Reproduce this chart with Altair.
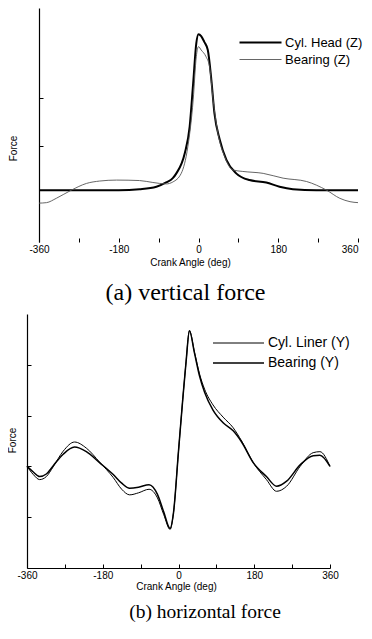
import altair as alt
import pandas as pd

# ---------------- data: (a) vertical force ----------------
top_series = ["Cyl. Head (Z)", "Bearing (Z)"]
head_angle = [-360, -300, -240, -180, -133, -95, -73, -58, -50, -31, -20, -12, -5, 0, 6, 13, 21,
              29, 36, 48, 63, 85, 115, 153, 183, 213, 266, 360]
head_force = [1.08, 1.08, 1.08, 1.08, 1.10, 1.15, 1.24, 1.33, 1.43, 1.85, 2.40, 3.31, 4.14, 4.33,
              4.29, 4.17, 4.00, 3.38, 2.68, 2.13, 1.71, 1.43, 1.29, 1.24, 1.15, 1.10, 1.08, 1.08]
bear_z_angle = [-360, -343, -321, -287, -253, -223, -185, -133, -103, -73, -58, -39, -24, -12, -5,
                0, 6, 17, 25, 33, 44, 59, 78, 100, 146, 191, 244, 289, 319, 342, 360]
bear_z_force = [0.81, 0.82, 0.91, 1.08, 1.22, 1.27, 1.29, 1.28, 1.24, 1.21, 1.25, 1.43, 1.99, 2.96,
                3.86, 4.07, 4.00, 3.86, 3.65, 2.96, 2.26, 1.78, 1.50, 1.47, 1.43, 1.33, 1.26, 1.08,
                0.91, 0.84, 0.82]

# ---------------- data: (b) horizontal force ----------------
bot_series = ["Cyl. Liner (Y)", "Bearing (Y)"]
bot_angle = [-360, -345, -330, -314, -298, -274, -247, -219, -187, -155, -135, -116, -95, -70, -50,
             -35, -20, -12, 0, 10, 18, 26, 38, 50, 62, 82, 106, 130, 150, 178, 209, 233, 257, 289,
             320, 336, 360]
liner_force = [2.00, 1.84, 1.74, 1.80, 1.99, 2.30, 2.48, 2.36, 2.08, 1.78, 1.55, 1.44, 1.48, 1.55,
               1.38, 1.05, 0.76, 1.08, 2.30, 3.31, 4.06, 4.67, 4.25, 3.82, 3.52, 3.21, 2.97, 2.76,
               2.50, 2.07, 1.74, 1.51, 1.61, 2.00, 2.27, 2.29, 2.00]
bearing_y_force = [2.00, 1.89, 1.80, 1.85, 2.01, 2.24, 2.38, 2.29, 2.07, 1.84, 1.67, 1.57, 1.59,
                   1.64, 1.45, 1.10, 0.78, 1.08, 2.30, 3.31, 4.06, 4.67, 4.23, 3.78, 3.46, 3.11,
                   2.86, 2.70, 2.48, 2.07, 1.80, 1.61, 1.71, 2.03, 2.21, 2.22, 2.00]

x_ticks = [-360, -270, -180, -90, 0, 90, 180, 270, 360]
caption_a = "(a) vertical force"
caption_b = "(b) horizontal force"

df_top = pd.concat([
    pd.DataFrame({"angle": head_angle, "force": head_force, "series": top_series[0]}),
    pd.DataFrame({"angle": bear_z_angle, "force": bear_z_force, "series": top_series[1]}),
])
df_bot = pd.concat([
    pd.DataFrame({"angle": bot_angle, "force": liner_force, "series": bot_series[0]}),
    pd.DataFrame({"angle": bot_angle, "force": bearing_y_force, "series": bot_series[1]}),
])

W, H = 356, 623
SANS = "Liberation Sans"
label_expr = "datum.value % 180 == 0 ? '' + datum.value : ''"


def x_axis(offset, domain, title_x, title_y, flush_right):
    align = "center"
    if flush_right:
        align = {"condition": {"test": "datum.value == 360", "value": "right"}, "value": "center"}
    return alt.Axis(orient="top", offset=offset, values=x_ticks, tickSize=4, tickWidth=1,
                    tickColor="#000", domain=domain, domainColor="#000", domainWidth=1.2,
                    grid=False, labelExpr=label_expr, labelPadding=-11, labelBaseline="middle",
                    labelAlign=align,
                    labelFont=SANS, labelFontSize=10, labelColor="#000", labelFlush=False,
                    labelOverlap=False, title="Crank Angle (deg)", titleX=title_x,
                    titleY=title_y, titleAlign="center", titleBaseline="middle",
                    titleFont=SANS, titleFontSize=10, titleFontWeight="normal",
                    titleColor="#000")


def y_axis(offset, values, title_x, title_y):
    return alt.Axis(orient="right", offset=offset, values=values, tickSize=4, tickWidth=1,
                    tickColor="#000", domainColor="#000", domainWidth=1.2, grid=False,
                    labels=False, title="Force", titleX=title_x, titleY=title_y,
                    titleAngle=270, titleAlign="center", titleBaseline="middle",
                    titleFont=SANS, titleFontSize=10, titleFontWeight="normal",
                    titleColor="#000")


def legend(x, y, half, label_offset, row_pad, size):
    return alt.Legend(orient="none", legendX=x, legendY=y, title=None,
                      symbolType=f"M-{half},0H{half}", symbolSize=100,
                      labelOffset=label_offset, labelFont=SANS, labelFontSize=size,
                      labelColor="#000", padding=0, rowPadding=row_pad)


leg_top = legend(246, 28, 4.2, 18, 3, 13)
top = alt.Chart(df_top).mark_line(interpolate="monotone").encode(
    x=alt.X("angle:Q", scale=alt.Scale(domain=[-360, 360], range=[31, 350], nice=False, zero=False),
            axis=x_axis(-234, False, 182, 20, True)),
    y=alt.Y("force:Q", scale=alt.Scale(domain=[0, 4.875], range=[234, 0], nice=False, zero=False),
            axis=y_axis(31 - W, [2, 3], -25.5, 140)),
    color=alt.Color("series:N", scale=alt.Scale(domain=top_series, range=["#000000", "#555555"]),
                    legend=leg_top),
    strokeWidth=alt.StrokeWidth("series:N", scale=alt.Scale(domain=top_series, range=[2.0, 0.9]),
                                legend=leg_top),
)

leg_bot = legend(223.5, 328, 5.1, 22.5, 6, 14)
bot = alt.Chart(df_bot).mark_line(interpolate="monotone").encode(
    x=alt.X("angle:Q", scale=alt.Scale(domain=[-360, 360], range=[19, 322], nice=False, zero=False),
            axis=x_axis(-560, True, 168, 18, False)),
    y=alt.Y("force:Q", scale=alt.Scale(domain=[0, 5], range=[560, 306], nice=False, zero=False),
            axis=y_axis(19 - W, [1, 2, 3, 4], -14.5, 432)),
    color=alt.Color("series:N", scale=alt.Scale(domain=bot_series, range=["#000000", "#000000"]),
                    legend=leg_bot),
    strokeWidth=alt.StrokeWidth("series:N", scale=alt.Scale(domain=bot_series, range=[1.0, 1.5]),
                                legend=leg_bot),
)

cap_a = alt.Chart(pd.DataFrame({"t": [caption_a]})).mark_text(
    font="Liberation Serif", fontSize=24, align="center", baseline="alphabetic", color="#000"
).encode(text="t:N", x=alt.value(177.5), y=alt.value(292))

cap_b = alt.Chart(pd.DataFrame({"t": [caption_b]})).mark_text(
    font="Liberation Serif", fontSize=19.5, align="center", baseline="alphabetic", color="#000"
).encode(text="t:N", x=alt.value(197), y=alt.value(610))

chart = alt.layer(top, bot, cap_a, cap_b).resolve_scale(
    x="independent", y="independent", color="independent", strokeWidth="independent"
).properties(
    width=W, height=H, autosize=alt.AutoSizeParams(type="none"), padding=0
).configure_view(stroke=None)

chart.save("out.html", embed_options={"renderer": "svg", "actions": False})
